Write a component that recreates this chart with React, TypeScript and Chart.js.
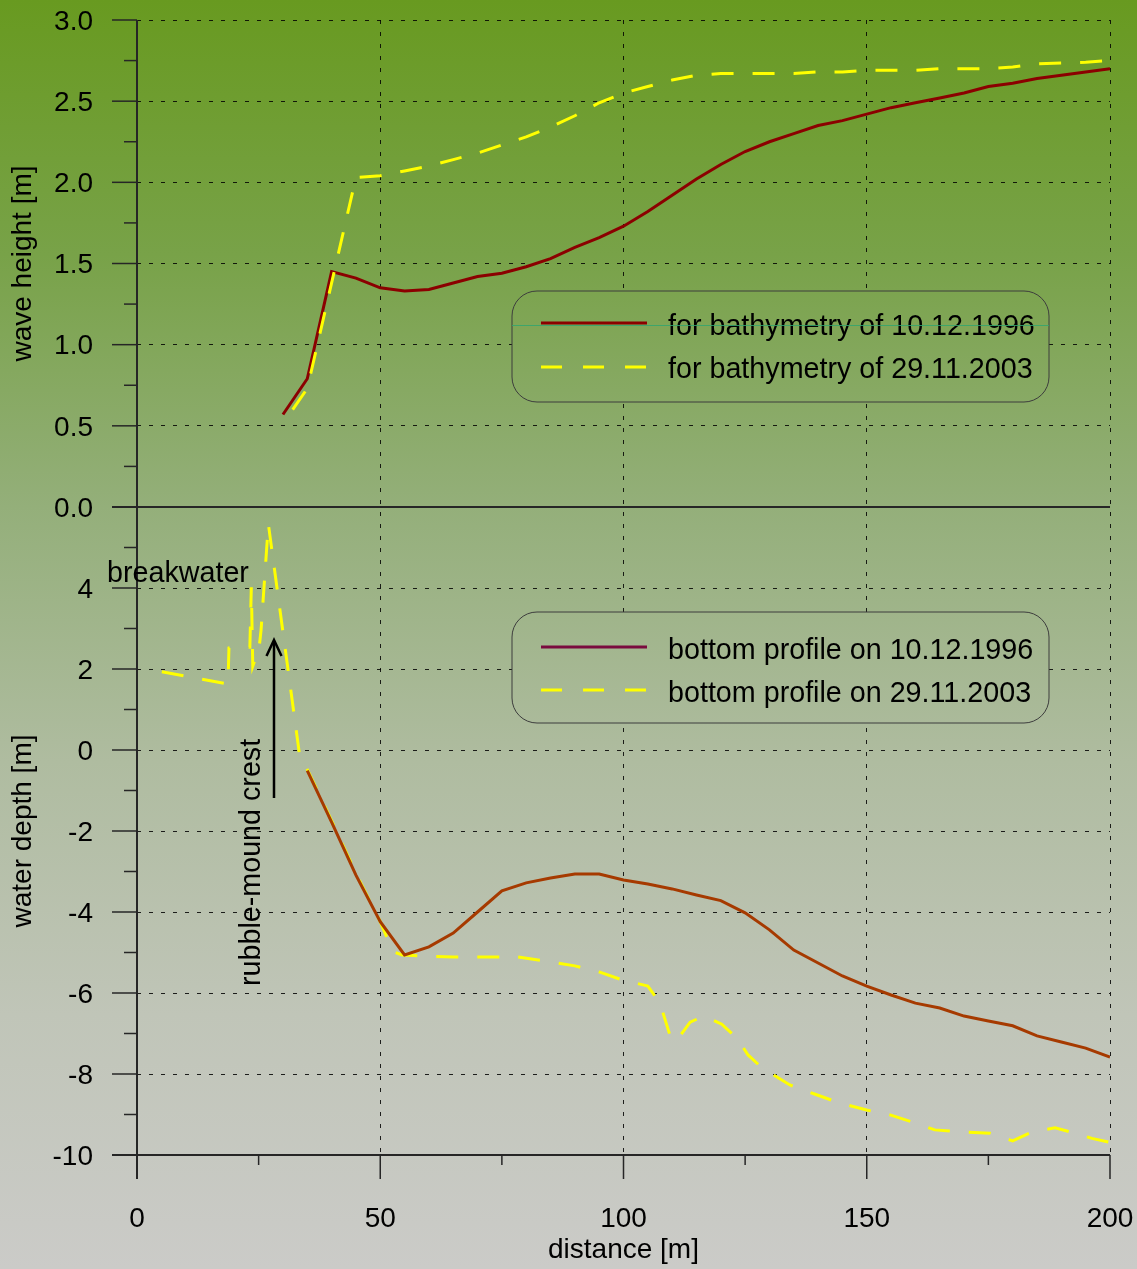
import React, { useEffect, useRef } from 'react';
import { Chart, registerables } from 'chart.js';

Chart.register(...registerables);

// ---------- data ----------
const waveDistance1996 = [30, 35, 40, 45, 50, 55, 60, 65, 70, 75, 80, 85, 90, 95, 100, 105, 110, 115, 120, 125, 130, 135, 140, 145, 150, 155, 160, 165, 170, 175, 180, 185, 190, 195, 200];
const waveHeight1996 = [0.57, 0.79, 1.45, 1.41, 1.35, 1.33, 1.34, 1.38, 1.42, 1.44, 1.48, 1.53, 1.6, 1.66, 1.73, 1.82, 1.92, 2.02, 2.11, 2.19, 2.25, 2.3, 2.35, 2.38, 2.42, 2.46, 2.49, 2.52, 2.55, 2.59, 2.61, 2.64, 2.66, 2.68, 2.7];

const waveDistance2003 = [32, 35, 45, 50, 55, 60, 65, 70, 75, 80, 85, 90, 95, 100, 105, 110, 115, 120, 125, 130, 135, 140, 145, 150, 155, 160, 165, 170, 175, 180, 185, 190, 195, 200];
const waveHeight2003 = [0.6, 0.73, 2.03, 2.04, 2.07, 2.1, 2.14, 2.18, 2.23, 2.28, 2.34, 2.41, 2.49, 2.55, 2.59, 2.63, 2.66, 2.67, 2.67, 2.67, 2.67, 2.68, 2.68, 2.69, 2.69, 2.69, 2.7, 2.7, 2.7, 2.71, 2.73, 2.735, 2.74, 2.75];

const depthDistance1996 = [35, 40, 45, 50, 55, 60, 65, 70, 75, 80, 85, 90, 95, 100, 105, 110, 115, 120, 125, 130, 135, 140, 145, 150, 155, 160, 165, 170, 175, 180, 185, 190, 195, 200];
const depth1996 = [-0.51, -1.78, -3.09, -4.24, -5.06, -4.86, -4.52, -4.0, -3.48, -3.28, -3.16, -3.06, -3.06, -3.21, -3.31, -3.43, -3.58, -3.72, -4.02, -4.44, -4.94, -5.26, -5.58, -5.83, -6.05, -6.25, -6.37, -6.57, -6.69, -6.81, -7.06, -7.21, -7.36, -7.58];

const depthDistance2003 = [5.1, 18.7, 18.9, 19.9, 23.2, 23.5, 23.8, 25.1, 25.5, 27.0, 33.5, 34.4, 40, 45, 50, 52.6, 54.5, 59.6, 65, 70, 75, 77.1, 85, 90, 95, 99.3, 105, 107.5, 109.8, 111, 113.7, 116.5, 120.2, 123.3, 125.6, 128.5, 134.2, 139.4, 144.5, 150, 154.8, 160, 164, 169.2, 175.3, 180, 184.2, 188.7, 192.2, 196.3, 200];
const depth2003 = [1.93, 1.63, 2.52, 2.54, 2.54, 4.02, 2.07, 2.52, 2.96, 5.58, -0.2, -0.33, -1.75, -3.05, -4.24, -4.98, -5.06, -5.09, -5.11, -5.11, -5.11, -5.09, -5.23, -5.33, -5.48, -5.66, -5.83, -6.25, -7.14, -7.16, -6.72, -6.57, -6.77, -7.11, -7.53, -7.85, -8.27, -8.5, -8.72, -8.89, -9.01, -9.21, -9.38, -9.43, -9.46, -9.65, -9.42, -9.33, -9.44, -9.59, -9.69];

const distanceRange = [0, 200];
const waveRange = [0, 3];
const depthRange = [-10, 6];

const legendTopLabels = ['for bathymetry of 10.12.1996', 'for bathymetry of 29.11.2003'];
const legendBottomLabels = ['bottom profile on 10.12.1996', 'bottom profile on 29.11.2003'];
const breakwaterLabel = 'breakwater';
const crestLabel = 'rubble-mound crest';

// ---------- style ----------
const W = 1137;
const H = 1269;
const FONT = "'Liberation Sans', Arial, Helvetica, sans-serif";
const RED_TOP = '#8b0000';
const RED_BOTTOM = '#a63a00';
const RED_LEGEND2 = '#7a0a3e';
const YELLOW = '#ffff00';
const GRID = 'rgba(0,0,0,0.85)';
const AXIS = '#262626';
const LINE_DASH = [22, 19];
const TEXT_SIZE = 28.7;

function makeGradient(ctx: CanvasRenderingContext2D) {
  const g = ctx.createLinearGradient(0, 0, 0, H);
  g.addColorStop(0, 'rgb(104,154,32)');
  g.addColorStop(0.2, 'rgb(120,162,72)');
  g.addColorStop(0.4, 'rgb(148,175,122)');
  g.addColorStop(0.6, 'rgb(175,188,160)');
  g.addColorStop(0.8, 'rgb(192,197,184)');
  g.addColorStop(1, 'rgb(203,203,200)');
  return g;
}

function seg(ctx: CanvasRenderingContext2D, x1: number, y1: number, x2: number, y2: number) {
  ctx.beginPath();
  ctx.moveTo(x1, y1);
  ctx.lineTo(x2, y2);
  ctx.stroke();
}

function roundRect(ctx: CanvasRenderingContext2D, x: number, y: number, w: number, h: number, r: number) {
  ctx.beginPath();
  ctx.moveTo(x + r, y);
  ctx.arcTo(x + w, y, x + w, y + h, r);
  ctx.arcTo(x + w, y + h, x, y + h, r);
  ctx.arcTo(x, y + h, x, y, r);
  ctx.arcTo(x, y, x + w, y, r);
  ctx.closePath();
}

function drawLegend(
  ctx: CanvasRenderingContext2D,
  box: { x: number; y: number; w: number; h: number },
  labels: string[],
  colors: string[],
  dashed: boolean[],
  lineYs: number[],
  textYs: number[]
) {
  ctx.save();
  roundRect(ctx, box.x, box.y, box.w, box.h, 25);
  ctx.fillStyle = makeGradient(ctx);
  ctx.fill();
  ctx.strokeStyle = '#3d3d3d';
  ctx.lineWidth = 1;
  ctx.stroke();
  for (let i = 0; i < labels.length; i++) {
    ctx.strokeStyle = colors[i];
    ctx.lineWidth = 3;
    ctx.setLineDash(dashed[i] ? [21, 21] : []);
    seg(ctx, box.x + 29, lineYs[i], box.x + 135, lineYs[i]);
    ctx.setLineDash([]);
    ctx.fillStyle = '#000';
    ctx.font = `${TEXT_SIZE}px ${FONT}`;
    ctx.textAlign = 'left';
    ctx.textBaseline = 'alphabetic';
    ctx.fillText(labels[i], box.x + 156, textYs[i]);
  }
  ctx.restore();
}

const decorPlugin = {
  id: 'decor',
  beforeDraw(chart: any) {
    const ctx = chart.ctx as CanvasRenderingContext2D;
    ctx.save();
    ctx.fillStyle = makeGradient(ctx);
    ctx.fillRect(0, 0, chart.width, chart.height);
    ctx.restore();
  },
  afterDraw(chart: any) {
    const ctx = chart.ctx as CanvasRenderingContext2D;
    const area = chart.chartArea;
    const xs = chart.scales.x;
    const yt = chart.scales.yTop;
    const yb = chart.scales.yBot;
    ctx.save();
    ctx.strokeStyle = AXIS;
    ctx.setLineDash([]);

    const y0 = yt.getPixelForValue(0);
    const yBase = yb.getPixelForValue(-10);
    ctx.lineWidth = 2;
    seg(ctx, area.left - 25, y0, area.right, y0);
    seg(ctx, area.left - 25, yBase, area.right, yBase);
    seg(ctx, area.left, area.top, area.left, yBase + 24);

    ctx.lineWidth = 1.5;
    for (let k = 0; k <= 12; k++) {
      const v = k * 0.25;
      const p = yt.getPixelForValue(v);
      const major = k % 2 === 0;
      seg(ctx, area.left - (major ? 25 : 13), p, area.left, p);
    }
    for (let v = -10; v <= 5; v++) {
      const p = yb.getPixelForValue(v);
      const major = v % 2 === 0;
      seg(ctx, area.left - (major ? 25 : 13), p, area.left, p);
    }
    for (let v = 0; v <= 200; v += 25) {
      const p = xs.getPixelForValue(v);
      const major = v % 50 === 0;
      seg(ctx, p, yBase, p, yBase + (major ? 24 : 10));
    }
    ctx.restore();

    // legends
    drawLegend(ctx, { x: 512, y: 291, w: 537, h: 111 }, legendTopLabels, [RED_TOP, YELLOW], [false, true], [323, 367], [335, 378]);
    ctx.save();
    ctx.strokeStyle = 'rgba(50,165,110,0.85)';
    ctx.lineWidth = 1;
    seg(ctx, 512, 325.5, 1049, 325.5);
    ctx.restore();
    drawLegend(ctx, { x: 512, y: 612, w: 537, h: 111 }, legendBottomLabels, [RED_LEGEND2, YELLOW], [false, true], [647, 690], [659, 702]);

    // annotations
    ctx.save();
    ctx.fillStyle = '#000';
    ctx.font = `${TEXT_SIZE}px ${FONT}`;
    ctx.textAlign = 'left';
    ctx.textBaseline = 'alphabetic';
    ctx.fillText(breakwaterLabel, 107, 582);
    ctx.translate(260, 986);
    ctx.rotate(-Math.PI / 2);
    ctx.fillText(crestLabel, 0, 0);
    ctx.restore();

    ctx.save();
    ctx.strokeStyle = '#000';
    ctx.lineWidth = 2.5;
    seg(ctx, 274, 798, 274, 641);
    ctx.beginPath();
    ctx.moveTo(266.5, 656);
    ctx.lineTo(274, 640);
    ctx.lineTo(281.5, 656);
    ctx.stroke();
    ctx.restore();
  },
};

function pts(xs: number[], ys: number[]) {
  return xs.map((x, i) => ({ x, y: ys[i] }));
}

function zeroPad(s: any) {
  s.paddingTop = 0;
  s.paddingBottom = 0;
  s.paddingLeft = 0;
  s.paddingRight = 0;
}

export default function App() {
  const ref = useRef<HTMLCanvasElement>(null);
  useEffect(() => {
    document.body.style.margin = '0';
    const tickFont = { family: FONT, size: 28 };
    const titleFont = { family: FONT, size: 28 };
    const chart = new Chart(ref.current as HTMLCanvasElement, {
      type: 'scatter',
      data: {
        datasets: [
          {
            label: legendTopLabels[1],
            data: pts(waveDistance2003, waveHeight2003),
            yAxisID: 'yTop',
            showLine: true,
            borderColor: YELLOW,
            borderWidth: 3,
            borderDash: LINE_DASH,
            pointRadius: 0,
            order: 0,
          },
          {
            label: legendTopLabels[0],
            data: pts(waveDistance1996, waveHeight1996),
            yAxisID: 'yTop',
            showLine: true,
            borderColor: RED_TOP,
            borderWidth: 3,
            pointRadius: 0,
            order: 1,
          },
          {
            label: legendBottomLabels[0],
            data: pts(depthDistance1996, depth1996),
            yAxisID: 'yBot',
            showLine: true,
            borderColor: RED_BOTTOM,
            borderWidth: 3,
            pointRadius: 0,
            order: 0,
          },
          {
            label: legendBottomLabels[1],
            data: pts(depthDistance2003, depth2003),
            yAxisID: 'yBot',
            showLine: true,
            borderColor: YELLOW,
            borderWidth: 3,
            borderDash: LINE_DASH,
            pointRadius: 0,
            order: 1,
          },
        ],
      },
      options: {
        responsive: false,
        animation: false,
        devicePixelRatio: 1,
        layout: { padding: { left: 0, top: 20, right: 27, bottom: 0 } },
        plugins: { legend: { display: false }, tooltip: { enabled: false } },
        scales: {
          x: {
            type: 'linear',
            position: 'bottom',
            min: distanceRange[0],
            max: distanceRange[1],
            ticks: { stepSize: 50, padding: 47, font: tickFont, color: '#000', maxRotation: 0, autoSkip: false },
            grid: {
              color: (c: any) => (c.tick && c.tick.value > 0 ? GRID : 'rgba(0,0,0,0)'),
              lineWidth: 1,
              drawTicks: false,
            },
            border: { display: false, dash: [4, 8] },
            title: { display: true, text: 'distance [m]', font: titleFont, color: '#000', padding: { top: 0, bottom: 2 } },
            afterFit: (s: any) => {
              s.height = 114;
              zeroPad(s);
            },
          },
          yTop: {
            type: 'linear',
            position: 'left',
            stack: 'panels',
            stackWeight: 487,
            weight: 2,
            min: waveRange[0],
            max: waveRange[1],
            ticks: {
              stepSize: 0.5,
              padding: 44,
              labelOffset: 2,
              font: tickFont,
              color: '#000',
              autoSkip: false,
              callback: (v: any) => Number(v).toFixed(1),
            },
            grid: {
              color: (c: any) => (c.tick && c.tick.value > 0 ? GRID : 'rgba(0,0,0,0)'),
              lineWidth: 1,
              drawTicks: false,
            },
            border: { display: false, dash: [4, 8] },
            title: { display: true, text: 'wave height [m]', font: titleFont, color: '#000', padding: { top: 6, bottom: 0 } },
            afterFit: (s: any) => {
              s.width = 137;
              zeroPad(s);
            },
          },
          yBot: {
            type: 'linear',
            position: 'left',
            stack: 'panels',
            stackWeight: 648,
            weight: 1,
            min: depthRange[0],
            max: depthRange[1],
            ticks: {
              stepSize: 2,
              padding: 44,
              labelOffset: 2,
              font: tickFont,
              color: '#000',
              autoSkip: false,
              callback: (v: any) => (Number(v) === depthRange[1] ? null : String(v)),
            },
            grid: {
              color: (c: any) =>
                c.tick && c.tick.value > depthRange[0] && c.tick.value < depthRange[1] ? GRID : 'rgba(0,0,0,0)',
              lineWidth: 1,
              drawTicks: false,
            },
            border: { display: false, dash: [4, 8] },
            title: { display: true, text: 'water depth [m]', font: titleFont, color: '#000', padding: { top: 6, bottom: 0 } },
            afterFit: (s: any) => {
              s.width = 137;
              zeroPad(s);
            },
          },
        },
      } as any,
      plugins: [decorPlugin],
    });
    return () => chart.destroy();
  }, []);
  return <canvas ref={ref} width={W} height={H} style={{ display: 'block', width: W, height: H }} />;
}
